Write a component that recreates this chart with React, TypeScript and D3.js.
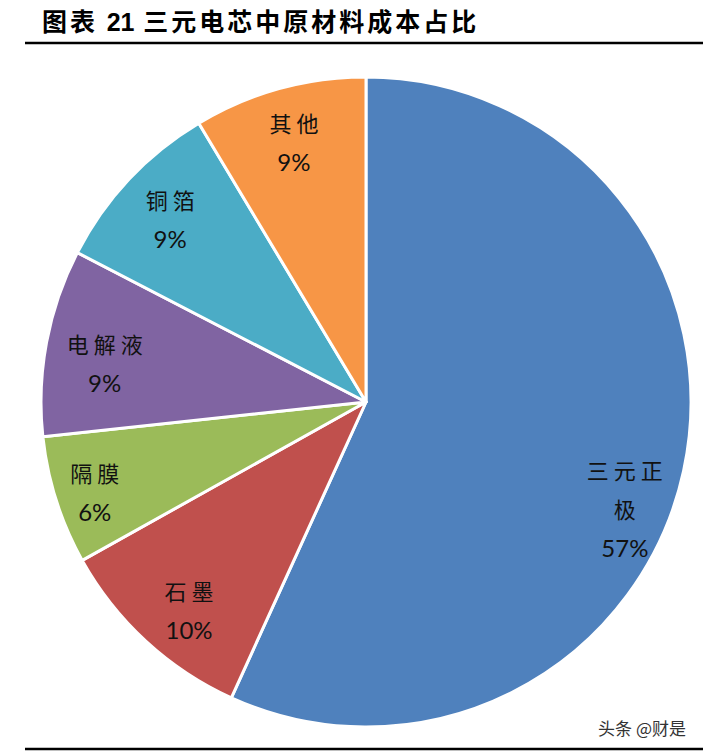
import { useEffect, useRef } from 'react'
import * as d3 from 'd3'

// cost share of raw materials in an NCM cell (%)
const NAMES = ['三元正极', '石墨', '隔膜', '电解液', '铜箔', '其他']
const VALUES = [56.8, 10.1, 6.4, 9.3, 8.8, 8.6]
const COLORS = ['#4F81BD', '#C0504D', '#9BBB59', '#8064A2', '#4BACC6', '#F79646']
// how Excel wrapped the slice names
const NAME_LINES: Record<string, string[]> = { 三元正极: ['三元正', '极'] }

const W = 703
const H = 752
const CX = 366
const CY = 402
const R = 325
const LABEL_R = 270
// small nudges where Excel's best-fit label moved off the centroid
const NUDGE: Record<string, [number, number]> = {
  三元正极: [-5, 49], 隔膜: [-14, 8], 石墨: [6, 9], 电解液: [4, 10], 铜箔: [1, 2],
}

const CJK = '"Noto Sans CJK SC", sans-serif'

interface Slice { name: string; value: number; color: string }

export default function App() {
  const svgRef = useRef<SVGSVGElement>(null)

  useEffect(() => {
    const svg = d3.select(svgRef.current)
    svg.selectAll('*').remove()
    svg.attr('width', W).attr('height', H)
    svg.append('rect').attr('width', W).attr('height', H).attr('fill', '#fff')

    // title + rules
    const title = svg.append('text').attr('x', 42).attr('y', 31).attr('font-family', CJK).attr('font-weight', 700)
      .attr('font-size', 25).attr('fill', '#000')
    title.append('tspan').attr('letter-spacing', 3).text('图表 ')
    title.append('tspan').attr('font-family', 'Arial, "Liberation Sans", sans-serif').text('21')
    title.append('tspan').attr('letter-spacing', 3).text(' 三元电芯中原材料成本占比')
    svg.append('line').attr('x1', 25).attr('x2', W).attr('y1', 43).attr('y2', 43).attr('stroke', '#000').attr('stroke-width', 2.4)
    svg.append('line').attr('x1', 25).attr('x2', W).attr('y1', 749).attr('y2', 749).attr('stroke', '#000').attr('stroke-width', 2.4)

    const data: Slice[] = NAMES.map((n, i) => ({ name: n, value: VALUES[i], color: COLORS[i] }))
    const total = d3.sum(VALUES)
    const pie = d3.pie<Slice>().sort(null).value((d) => d.value)
    const arcs = pie(data)
    const arc = d3.arc<d3.PieArcDatum<Slice>>().innerRadius(0).outerRadius(R)
    const labelArc = d3.arc<d3.PieArcDatum<Slice>>().innerRadius(LABEL_R).outerRadius(LABEL_R)

    const g = svg.append('g').attr('transform', `translate(${CX},${CY})`)
    g.selectAll('path').data(arcs).join('path')
      .attr('d', arc).attr('fill', (d) => d.data.color)
      .attr('stroke', '#fff').attr('stroke-width', 3).attr('stroke-linejoin', 'round')

    const pct = d3.format('.0%')
    arcs.forEach((a) => {
      const [x0, y0] = labelArc.centroid(a)
      const nd = NUDGE[a.data.name] || [0, 0]
      const x = x0 + nd[0]
      const lines = NAME_LINES[a.data.name] || [a.data.name]
      const n = lines.length + 1
      const step = 39.5
      const top = y0 + nd[1] - ((n - 1) * step) / 2
      lines.forEach((ln, i) => {
        g.append('text').attr('x', x + 2.5).attr('y', top + i * step).attr('text-anchor', 'middle')
          .attr('dominant-baseline', 'central').attr('font-family', CJK).attr('font-size', 22)
          .attr('letter-spacing', 5).attr('fill', '#111').text(ln)
      })
      g.append('text').attr('x', x).attr('y', top + lines.length * step).attr('text-anchor', 'middle')
        .attr('dominant-baseline', 'central').attr('font-family', 'Lato, "Open Sans", sans-serif')
        .attr('font-size', 24).attr('fill', '#111').text(pct(a.data.value / total))
    })

    // watermark
    svg.append('text').attr('x', 686).attr('y', 727).attr('text-anchor', 'end').attr('dominant-baseline', 'central')
      .attr('font-family', CJK).attr('font-size', 17).attr('fill', '#333')
      .attr('stroke', '#fff').attr('stroke-width', 0.6).attr('paint-order', 'stroke')
      .text('头条 @财是')
  }, [])

  return (
    <div style={{ position: 'absolute', left: 0, top: 0, width: W, height: H }}>
      <svg ref={svgRef} style={{ display: 'block' }} />
    </div>
  )
}
